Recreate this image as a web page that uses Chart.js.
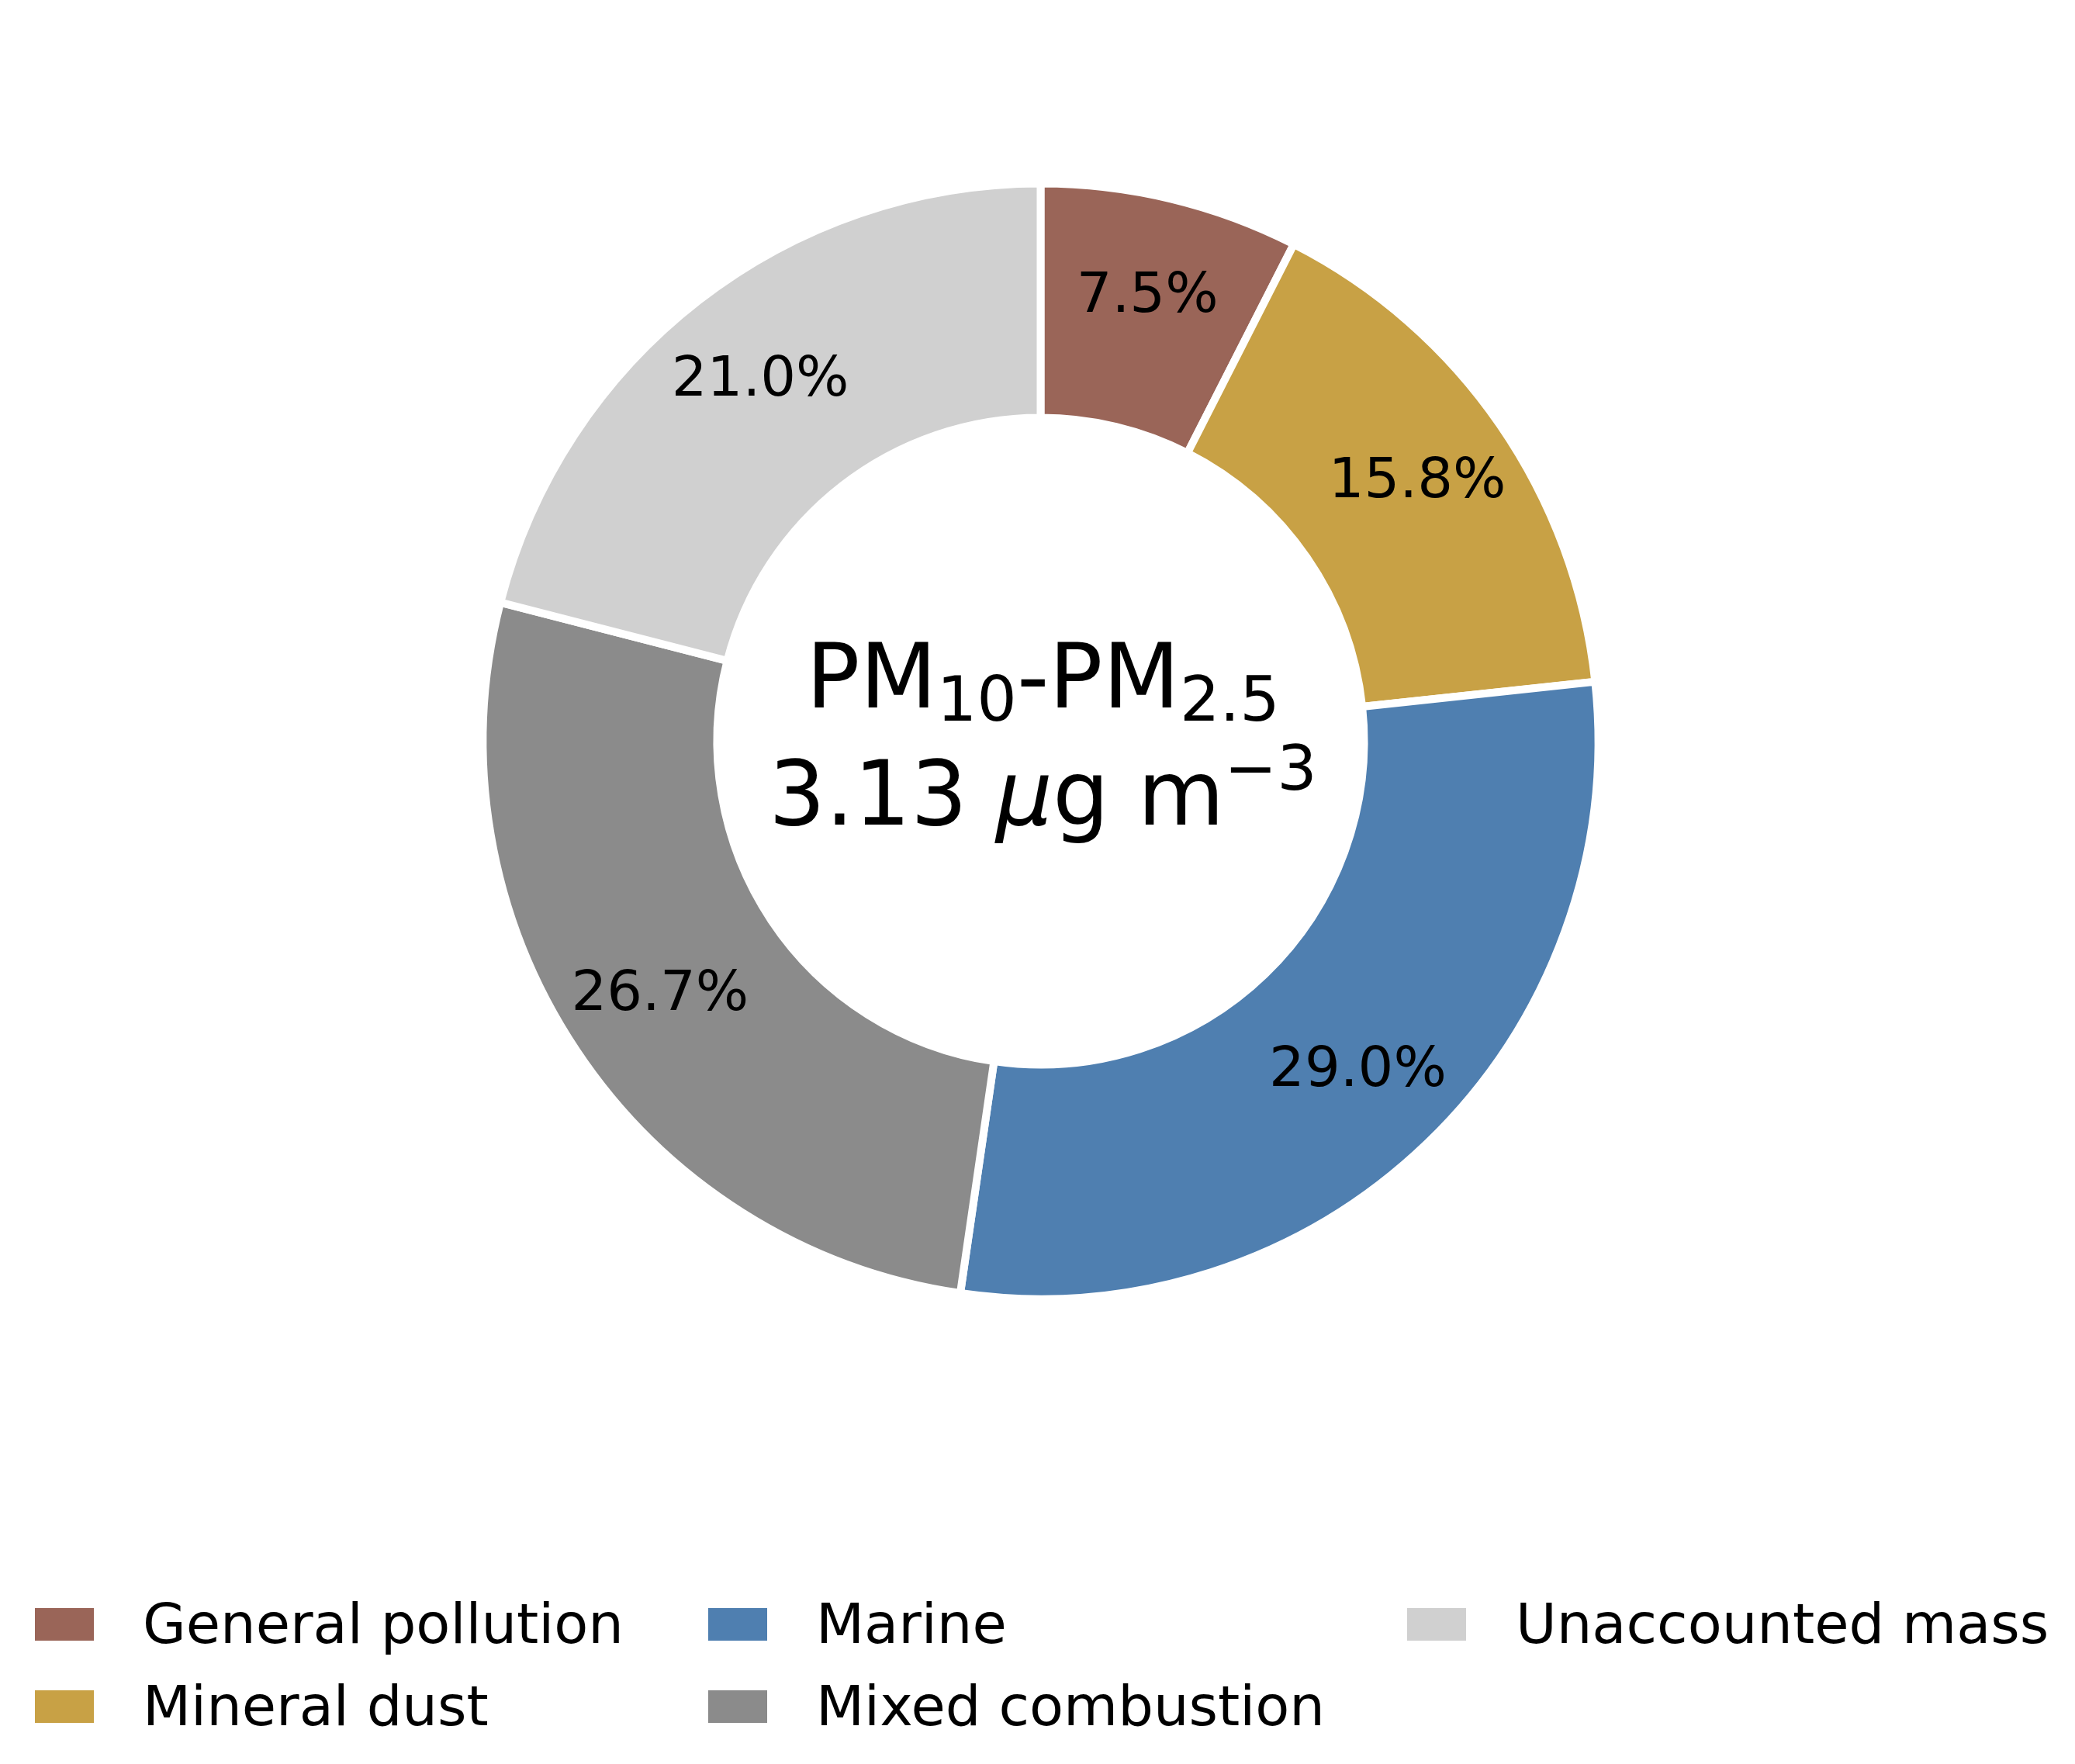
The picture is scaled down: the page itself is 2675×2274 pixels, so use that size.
<!DOCTYPE html>
<html>
<head>
<meta charset="utf-8">
<title>PM10-PM2.5 source apportionment</title>
<script src="https://cdn.jsdelivr.net/npm/chart.js@4.4.1/dist/chart.umd.min.js"></script>
<style>
  html, body { margin: 0; padding: 0; background: #fff; }
  #wrap { position: relative; width: 2675px; height: 2274px; }
</style>
</head>
<body>
<div id="wrap"><canvas id="chart" width="2675" height="2274"></canvas></div>
<script>
const labels = ["General pollution", "Mineral dust", "Marine", "Mixed combustion", "Unaccounted mass"]
const shares = [7.5, 15.8, 29.0, 26.7, 21.0]
const colors = ["#9a6558", "#c8a145", "#4f7fb0", "#8b8b8b", "#d0d0d0"]
const totalMass = "3.13"

// legend goes down the columns first, like matplotlib's ncol=3
const legendColumns = [[0, 1], [2, 3], [4]]

const FONT = "'DejaVu Sans', 'Liberation Sans', sans-serif"

const pctLabels = {
  id: "pctLabels",
  afterDatasetsDraw(chart) {
    const ctx = chart.ctx
    const meta = chart.getDatasetMeta(0)
    ctx.save()
    ctx.font = `72px ${FONT}`
    ctx.fillStyle = "#000"
    ctx.textAlign = "center"
    ctx.textBaseline = "alphabetic"
    meta.data.forEach((arc, i) => {
      const { x, y, startAngle, endAngle, outerRadius } =
        arc.getProps(["x", "y", "startAngle", "endAngle", "outerRadius"], true)
      const mid = (startAngle + endAngle) / 2
      const r = outerRadius * 0.82
      ctx.fillText(shares[i].toFixed(1) + "%", x + Math.cos(mid) * r, y + Math.sin(mid) * r + 20)
    })
    ctx.restore()
  }
}

// draws a row of [text, font, dy] pieces centred on cx
function drawRuns(ctx, runs, cx, baseline) {
  let total = 0
  runs.forEach(run => {
    ctx.font = run[1]
    total += ctx.measureText(run[0]).width
  })
  let x = cx - total / 2
  runs.forEach(run => {
    ctx.font = run[1]
    ctx.fillText(run[0], x, baseline + run[2])
    x += ctx.measureText(run[0]).width
  })
}

const centerText = {
  id: "centerText",
  afterDraw(chart) {
    const ctx = chart.ctx
    const arc = chart.getDatasetMeta(0).data[0]
    const cx = arc.x + 3
    const cy = arc.y
    const big = `115px ${FONT}`
    const small = `81px ${FONT}`
    ctx.save()
    ctx.fillStyle = "#000"
    ctx.textAlign = "left"
    ctx.textBaseline = "alphabetic"
    drawRuns(ctx, [
      ["PM", big, 0], ["10", small, 17], ["-PM", big, 0], ["2.5", small, 17]
    ], cx, cy - 44)
    drawRuns(ctx, [
      [totalMass + " ", big, 0], ["\u03bc", `italic 115px ${FONT}`, 0],
      ["g m", big, 0], ["\u22123", small, -45]
    ], cx, cy + 107)
    ctx.restore()
  }
}

const columnLegend = {
  id: "columnLegend",
  afterDraw(chart) {
    const ctx = chart.ctx
    const boxX = [45, 913, 1814]
    const textX = [184, 1052, 1954]
    const boxY = [2073, 2179]
    const baseY = [2118, 2224]
    ctx.save()
    ctx.font = `72px ${FONT}`
    ctx.textAlign = "left"
    ctx.textBaseline = "alphabetic"
    legendColumns.forEach((col, c) => {
      col.forEach((idx, r) => {
        ctx.fillStyle = colors[idx]
        ctx.fillRect(boxX[c], boxY[r], 76, 42)
        ctx.fillStyle = "#000"
        ctx.fillText(labels[idx], textX[c], baseY[r])
      })
    })
    ctx.restore()
  }
}

new Chart(document.getElementById("chart").getContext("2d"), {
  type: "doughnut",
  data: {
    labels: labels,
    datasets: [{
      data: shares,
      backgroundColor: colors,
      borderColor: "#ffffff",
      borderWidth: 10,
      borderJoinStyle: "miter",
      hoverOffset: 0
    }]
  },
  options: {
    responsive: false,
    animation: false,
    devicePixelRatio: 1,
    cutout: 417,
    layout: { padding: { left: 617.5, right: 609.5, top: 231.5, bottom: 594.5 } },
    plugins: {
      legend: { display: false },
      tooltip: { enabled: false }
    }
  },
  plugins: [pctLabels, centerText, columnLegend]
})
</script>
</body>
</html>
